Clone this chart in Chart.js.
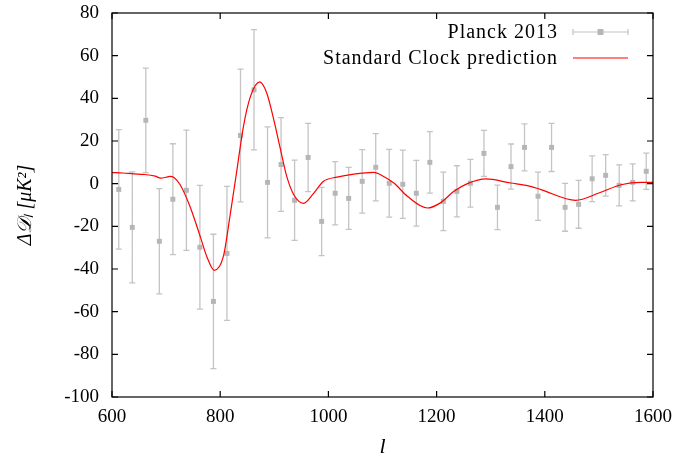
<!DOCTYPE html>
<html>
<head>
<meta charset="utf-8">
<script src="https://cdn.jsdelivr.net/npm/chart.js@4.4.1/dist/chart.umd.min.js"></script>
<style>
  html, body { margin: 0; padding: 0; background: #fff; }
</style>
</head>
<body>
<canvas id="chart" width="694" height="458"></canvas>
<script>
// Planck 2013 binned residuals
const planckL = [612.5, 637.5, 662.5, 687.5, 712.5, 737.5, 762.5, 787.5, 812.5, 837.5,
                 862.5, 887.5, 912.5, 937.5, 962.5, 987.5, 1012.5, 1037.5, 1062.5, 1087.5,
                 1112.5, 1137.5, 1162.5, 1187.5, 1212.5, 1237.5, 1262.5, 1287.5, 1312.5, 1337.5,
                 1362.5, 1387.5, 1412.5, 1437.5, 1462.5, 1487.5, 1512.5, 1537.5, 1562.5, 1587.5];
const planckD = [-2.7, -20.5, 29.7, -27, -7.3, -3.1, -29.8, -55.2, -32.7, 22.6,
                 44, 0.6, 9, -7.8, 12.3, -17.7, -4.5, -6.9, 1.1, 7.7,
                 0.2, -0.3, -4.5, 10, -8.3, -3.6, 0.2, 14.2, -11.1, 8,
                 17, -5.9, 17, -11.1, -9.7, 2.3, 3.9, -0.8, 0.6, 5.8];
const planckErr = [28, 26, 24.5, 24.7, 26, 28.2, 29, 31.5, 31.4, 31.1,
                   28.2, 26, 22, 18.8, 16, 16, 14.8, 14.5, 14.9, 15.8,
                   15.9, 16, 15.4, 14.4, 13.7, 12, 11.2, 10.8, 10.4, 10.6,
                   11, 11.3, 11.3, 11.2, 11.2, 10.7, 9.7, 9.6, 8.7, 8.5];

// Standard clock prediction curve
const clockL = [600, 620, 640, 660, 680, 690, 700, 707, 715, 726,
                744, 763, 775, 789, 806, 818, 831, 843, 856, 873,
                886, 899, 911, 923, 936, 954, 973, 991, 1016, 1047,
                1084, 1102, 1121, 1146, 1183, 1207, 1232, 1257, 1291, 1337,
                1368, 1393, 1457, 1500, 1541, 1578, 1600];
const clockD = [5.2, 5.0, 4.6, 4.3, 3.5, 2.6, 3.0, 3.4, 2.8, -0.5,
                -10.6, -24.7, -34, -40.6, -34, -15.3, 6.6, 26.9, 40.9, 47.7,
                42.5, 30, 16.5, 3.4, -5.2, -9.2, -4.4, 1.1, 3.1, 4.5,
                5.3, 3.4, 0.3, -5.9, -11.4, -9, -3.6, 0, 2.2, 0.3,
                -0.9, -2.8, -7.8, -4.4, -0.5, 0.6, 0.6];

const xRange = [600, 1600];
const yRange = [-100, 80];

const serif = '"Liberation Serif", "Times New Roman", serif';
const barColor = '#c4c4c4';
const markColor = '#b6b6b6';

// error bars under the markers
const errorBars = {
    id: 'errorBars',
    beforeDatasetsDraw(chart) {
        const { ctx, scales: { x, y } } = chart;
        ctx.save();
        ctx.strokeStyle = barColor;
        ctx.lineWidth = 1.3;
        ctx.beginPath();
        planckL.forEach((l, i) => {
            const px = x.getPixelForValue(l);
            const top = y.getPixelForValue(planckD[i] + planckErr[i]);
            const bot = y.getPixelForValue(planckD[i] - planckErr[i]);
            ctx.moveTo(px, top); ctx.lineTo(px, bot);
            ctx.moveTo(px - 3, top); ctx.lineTo(px + 3, top);
            ctx.moveTo(px - 3, bot); ctx.lineTo(px + 3, bot);
        });
        ctx.stroke();
        ctx.restore();
    }
};

// gnuplot style box with inward ticks, plus the key
const frame = {
    id: 'frame',
    afterDraw(chart) {
        const { ctx, chartArea: a, scales: { x, y } } = chart;
        ctx.save();
        ctx.strokeStyle = '#000';
        ctx.lineWidth = 1.2;
        ctx.strokeRect(a.left, a.top, a.right - a.left, a.bottom - a.top);
        ctx.beginPath();
        x.ticks.forEach(t => {
            const px = x.getPixelForValue(t.value);
            ctx.moveTo(px, a.bottom); ctx.lineTo(px, a.bottom - 6);
            ctx.moveTo(px, a.top); ctx.lineTo(px, a.top + 6);
        });
        y.ticks.forEach(t => {
            const py = y.getPixelForValue(t.value);
            ctx.moveTo(a.left, py); ctx.lineTo(a.left + 6, py);
            ctx.moveTo(a.right, py); ctx.lineTo(a.right - 6, py);
        });
        ctx.stroke();

        // key
        ctx.font = '20px ' + serif;
        ctx.letterSpacing = '1px';
        ctx.fillStyle = '#000';
        ctx.textAlign = 'right';
        ctx.textBaseline = 'middle';
        const textRight = 558, x0 = 573, x1 = 628;
        chart.data.datasets.forEach((ds, i) => {
            const yy = 32 + i * 26;
            ctx.fillText(ds.label, textRight, yy + 1);
            ctx.beginPath();
            if (ds.showLine) {
                ctx.strokeStyle = ds.borderColor;
                ctx.lineWidth = 1.2;
                ctx.moveTo(x0, yy); ctx.lineTo(x1, yy);
                ctx.stroke();
            } else {
                ctx.strokeStyle = barColor;
                ctx.lineWidth = 1.2;
                ctx.moveTo(x0, yy); ctx.lineTo(x1, yy);
                ctx.moveTo(x0, yy - 3); ctx.lineTo(x0, yy + 3);
                ctx.moveTo(x1, yy - 3); ctx.lineTo(x1, yy + 3);
                ctx.stroke();
                ctx.fillStyle = markColor;
                ctx.fillRect((x0 + x1) / 2 - 3, yy - 3, 6, 6);
                ctx.fillStyle = '#000';
            }
        });
        ctx.restore();
    }
};

new Chart(document.getElementById('chart'), {
    type: 'scatter',
    data: {
        datasets: [
            {
                label: 'Planck 2013',
                data: planckL.map((l, i) => ({ x: l, y: planckD[i] })),
                pointStyle: 'rect',
                pointRadius: 3.5,
                backgroundColor: markColor,
                borderWidth: 0,
                order: 2
            },
            {
                label: 'Standard Clock prediction',
                data: clockL.map((l, i) => ({ x: l, y: clockD[i] })),
                showLine: true,
                pointRadius: 0,
                borderColor: '#ff0000',
                borderWidth: 1.2,
                cubicInterpolationMode: 'monotone',
                order: 1
            }
        ]
    },
    options: {
        responsive: false,
        animation: false,
        devicePixelRatio: 1,
        layout: { padding: { top: 13, right: 41, left: 0, bottom: 0 } },
        plugins: {
            legend: { display: false },
            tooltip: { enabled: false }
        },
        scales: {
            x: {
                type: 'linear',
                min: xRange[0],
                max: xRange[1],
                grid: { display: false, drawTicks: false },
                border: { display: false },
                ticks: { stepSize: 200, padding: 9, color: '#000', font: { family: serif, size: 19 },
                         callback: v => String(v) },
                title: { display: true, text: 'l', color: '#000', padding: { top: 0, bottom: 0 },
                         font: { family: serif, size: 22, style: 'italic', lineHeight: 1 } },
                afterFit: s => { s.height = 61; }
            },
            y: {
                min: yRange[0],
                max: yRange[1],
                grid: { display: false, drawTicks: false },
                border: { display: false },
                ticks: { stepSize: 20, padding: 13, color: '#000', font: { family: serif, size: 19 },
                         callback: v => String(v) },
                title: { display: true, text: 'Δ𝒟ₗ [μK²]', color: '#000', padding: { top: 14, bottom: 0 },
                         font: { family: serif, size: 20, style: 'italic' } },
                afterFit: s => { s.width = 112; s.paddingTop = 0; s.paddingBottom = 0; }
            }
        }
    },
    plugins: [errorBars, frame]
});
</script>
</body>
</html>
